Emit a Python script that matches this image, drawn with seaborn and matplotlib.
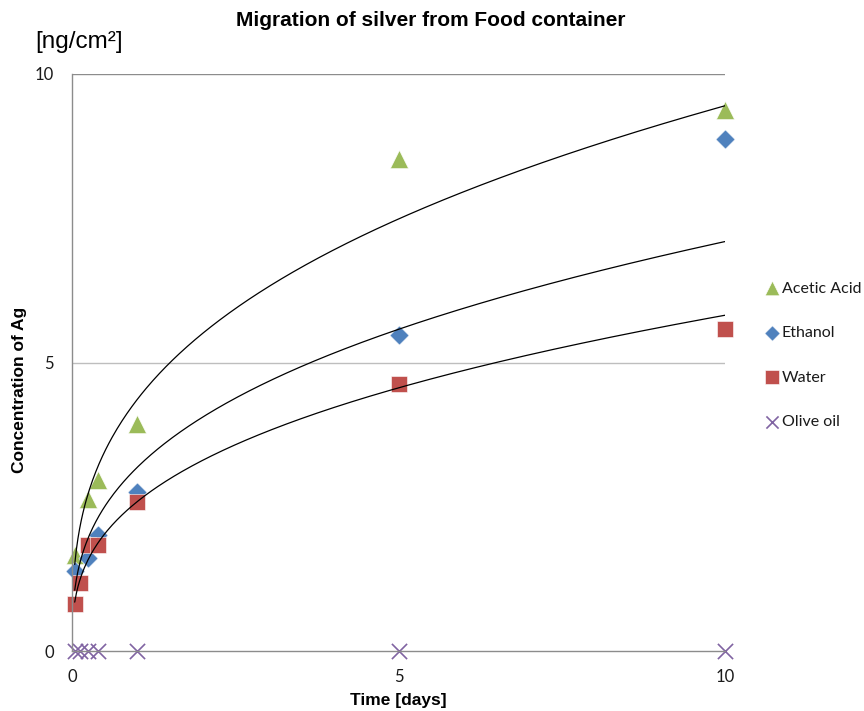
import numpy as np
import pandas as pd
import matplotlib.pyplot as plt
import seaborn as sns

# data (time in days, 1 h = 1/24 day)
time_acetic = [1/24, 0.25, 0.4, 1, 5, 10]
conc_acetic = [1.66, 2.63, 2.96, 3.93, 8.53, 9.38]

time_ethanol = [1/24, 0.25, 0.4, 1, 5, 10]
conc_ethanol = [1.39, 1.62, 2.01, 2.75, 5.47, 8.87]

time_water = [1/24, 0.125, 0.25, 0.4, 1, 5, 10]
conc_water = [0.81, 1.18, 1.84, 1.84, 2.59, 4.63, 5.58]

time_olive = [1/24, 0.125, 0.25, 0.4, 1, 5, 10]
conc_olive = [0, 0, 0, 0, 0, 0, 0]

series = ["Acetic Acid", "Ethanol", "Water", "Olive oil"]
colors = {"Acetic Acid": "#9BBB59", "Ethanol": "#4F81BD", "Water": "#C0504D", "Olive oil": "#8064A2"}
markers = {"Acetic Acid": "^", "Ethanol": "D", "Water": "s", "Olive oil": "x"}
sizes = {"Acetic Acid": 170, "Ethanol": 95, "Water": 140, "Olive oil": 120}

df = pd.concat([
    pd.DataFrame({"time": time_acetic, "conc": conc_acetic, "medium": "Acetic Acid"}),
    pd.DataFrame({"time": time_ethanol, "conc": conc_ethanol, "medium": "Ethanol"}),
    pd.DataFrame({"time": time_water, "conc": conc_water, "medium": "Water"}),
    pd.DataFrame({"time": time_olive, "conc": conc_olive, "medium": "Olive oil"}),
], ignore_index=True)

sns.set_style("white")
fig = plt.figure(figsize=(8.64, 7.11), dpi=100)
ax = fig.add_axes([72/864, 1 - 651/711, (725 - 72)/864, (651 - 74)/711])

# power trendlines (like Excel), fitted on the points
for name in ["Acetic Acid", "Ethanol", "Water"]:
    d = df[df.medium == name]
    b, lna = np.polyfit(np.log(d.time), np.log(d.conc), 1)
    xs = np.linspace(d.time.min(), d.time.max(), 400)
    ax.plot(xs, np.exp(lna) * xs ** b, color="black", lw=0.9, zorder=3)

for name in series:
    d = df[df.medium == name]
    sns.scatterplot(data=d, x="time", y="conc", marker=markers[name], color=colors[name],
                    s=sizes[name], linewidth=0.4 if name != "Olive oil" else 1.2,
                    edgecolor="white" if name != "Olive oil" else None,
                    ax=ax, label=name, zorder=2, clip_on=False)

ax.set_xlim(0, 10)
ax.set_ylim(0, 10)
ax.set_xticks([0, 5, 10])
ax.set_yticks([0, 5, 10])
ax.axhline(5, color="#BEBEBE", lw=1, zorder=0)
ax.axhline(10, color="#8C8C8C", lw=1, zorder=0)
for s in ["top", "right"]:
    ax.spines[s].set_visible(False)
for s in ["left", "bottom"]:
    ax.spines[s].set_color("#8C8C8C")
    ax.spines[s].set_linewidth(1)
ax.tick_params(length=0, labelsize=12)
ax.tick_params(axis="x", pad=13)
ax.tick_params(axis="y", pad=13)
for lab in ax.get_xticklabels() + ax.get_yticklabels():
    lab.set_fontfamily("Lato")
    lab.set_color("#1a1a1a")
ax.set_xlabel("")
ax.set_ylabel("")

fig.text(431/864, 1 - 20/711, "Migration of silver from Food container", ha="center", va="center",
         fontsize=15, fontweight="bold", family="Liberation Sans", color="black")
fig.text(35/864, 1 - 42/711, "[ng/cm²]", ha="left", va="center", fontsize=17.5,
         family="Liberation Sans", color="black")
fig.text(20/864, 1 - 390/711, "Concentration of Ag", rotation=90, ha="center", va="center",
         fontsize=12.5, fontweight="bold", family="Liberation Sans", color="black")
fig.text(398/864, 1 - 701/711, "Time [days]", ha="center", va="center",
         fontsize=12.5, fontweight="bold", family="Liberation Sans", color="black")

handles, labels = ax.get_legend_handles_labels()
leg = ax.legend(handles, labels, loc="upper left", bbox_to_anchor=(748/864, 1 - 267/711),
                bbox_transform=fig.transFigure, frameon=False, labelspacing=1.9,
                handletextpad=0.0, handlelength=1.2, markerscale=0.8,
                prop={"family": "Lato", "size": 11.5})
for t in leg.get_texts():
    t.set_color("#1a1a1a")

fig.savefig("out.png", dpi=100)
